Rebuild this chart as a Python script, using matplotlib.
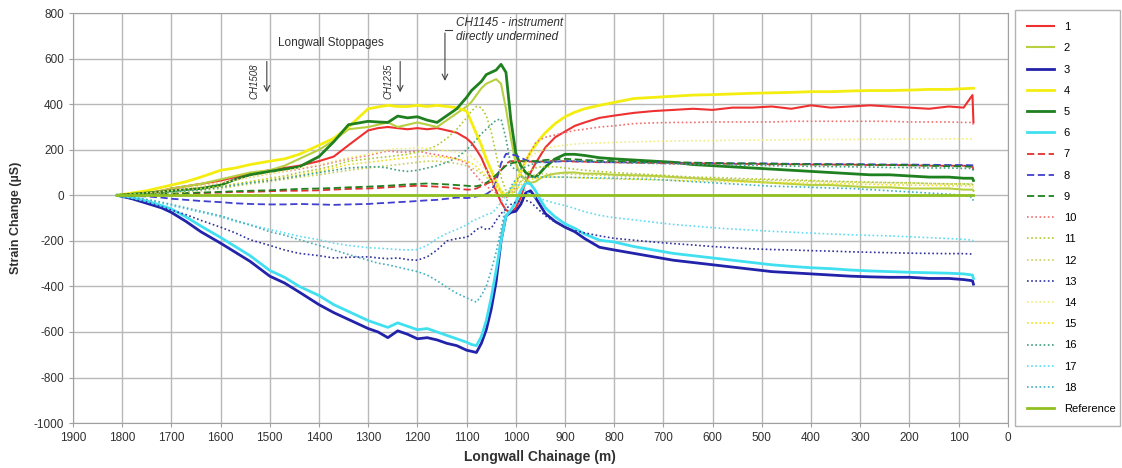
import matplotlib
matplotlib.use('Agg')
import matplotlib.pyplot as plt

# chainage (m) shared by the 18 instrument series
chainage = [1810, 1780, 1750, 1720, 1700, 1670, 1640, 1600, 1570, 1540,
            1500, 1470, 1440, 1400, 1370, 1340, 1300, 1280, 1260, 1240,
            1220, 1200, 1180, 1160, 1140, 1120, 1100, 1090, 1080, 1070,
            1060, 1050, 1040, 1030, 1020, 1010, 1000, 990, 980, 970,
            960, 950, 940, 920, 900, 880, 860, 830, 800, 760,
            720, 680, 640, 600, 560, 520, 480, 440, 400, 360,
            320, 280, 240, 200, 160, 120, 90, 72, 70]

s1 = [0, 5, 10, 20, 30, 40, 50, 65, 80, 95,
      110, 120, 130, 150, 170, 220, 285, 295, 300, 295,
      290, 295, 290, 295, 285, 275, 250, 230, 200, 165,
      115, 70, 20, -30, -65, -75, -55, -10, 60, 100,
      140, 175, 210, 255, 280, 305, 320, 340, 350, 362,
      370, 375, 380, 375, 385, 385, 390, 380, 395, 385,
      390, 395, 390, 385, 380, 390, 385, 440, 320]
s2 = [0, 5, 10, 20, 30, 40, 50, 70, 85, 100,
      110, 130, 160, 200, 240, 290, 300, 310, 320, 300,
      310, 320, 310, 300, 330, 360, 390, 410, 440, 470,
      490, 500, 510, 490, 380, 250, 140, 90, 70, 55,
      60, 75, 85, 95, 100, 100, 95, 95, 90, 88,
      85, 80, 75, 70, 65, 60, 55, 50, 45, 45,
      40, 35, 35, 30, 30, 30, 25, 25, 20]
s3 = [0, -15, -35, -55, -75, -115, -160, -210, -250, -290,
      -355, -385, -425, -480, -515, -545, -585, -600, -625, -595,
      -610, -630, -625, -635, -650, -660, -680, -685, -690, -650,
      -590, -500, -380, -200, -90, -75, -70, -40, 10, 20,
      -10, -45, -80, -115, -140, -160, -190, -228, -240, -255,
      -270, -285, -295, -305, -315, -325, -335, -340, -345, -350,
      -355, -358, -360, -360, -365, -365, -370, -375, -390]
s4 = [0, 10, 20, 35, 45, 60, 80, 110, 120, 135,
      150, 160, 180, 220, 250, 300, 380, 388, 395, 390,
      390, 395, 390, 395, 390, 385, 370, 320, 270, 220,
      160, 110, 60, 15, 0, 20, 60, 100, 150, 190,
      220, 250, 275, 315, 345, 365, 380, 395, 408, 425,
      430, 435, 440, 442, 445, 448, 450, 452, 455, 455,
      458, 460, 460, 462, 465, 465, 468, 470, 470]
s5 = [0, 5, 10, 15, 20, 25, 30, 45, 70, 90,
      105, 115, 125, 170, 235, 310, 325, 322, 320, 348,
      340, 345, 330, 320, 350, 380, 430, 460, 480, 500,
      530, 540, 550, 575, 540, 330, 185, 130, 100, 85,
      80, 100, 125, 160, 180, 180, 175, 165, 160, 155,
      150, 145, 135, 130, 125, 120, 115, 110, 105, 100,
      95, 90, 90, 85, 80, 80, 75, 75, 65]
s6 = [0, -10, -25, -45, -60, -95, -135, -185, -225, -265,
      -330, -360, -400, -440, -480, -510, -550, -565, -580, -560,
      -575, -590, -585, -600, -615, -630, -645, -655, -660, -620,
      -550, -450, -330, -200, -90, -65, -30, 20, 55, 50,
      20, -20, -55, -95, -125, -145, -170, -197, -205, -225,
      -240, -255, -265, -275, -285, -295, -305, -312, -318, -322,
      -328, -332, -335, -338, -340, -342, -345, -350, -365]
s7 = [0, 0, 2, 5, 5, 8, 10, 12, 15, 15,
      18, 20, 20, 22, 25, 28, 30, 32, 35, 38,
      40, 42, 40, 38, 35, 30, 25, 25, 30, 40,
      50, 60, 80, 110, 140, 150, 150, 150, 148, 148,
      148, 148, 150, 150, 150, 148, 148, 145, 145, 143,
      142, 140, 140, 140, 138, 138, 136, 136, 135, 135,
      135, 133, 133, 132, 130, 130, 130, 128, 110]
s8 = [0, -3, -5, -10, -15, -20, -25, -30, -35, -38,
      -40, -40, -38, -40, -42, -40, -38, -35, -33, -30,
      -28, -25, -22, -20, -15, -10, -12, -10, -5, 0,
      5, 20, 60, 140, 182, 180, 175, 165, 155, 150,
      148, 145, 145, 148, 150, 150, 148, 147, 145, 145,
      145, 143, 143, 142, 140, 140, 140, 138, 138, 137,
      137, 136, 135, 135, 134, 133, 133, 132, 120]
s9 = [0, 0, 3, 5, 8, 10, 12, 15, 18, 20,
      22, 25, 28, 30, 32, 35, 38, 40, 42, 45,
      48, 50, 52, 50, 48, 45, 42, 40, 40, 45,
      55, 70, 90, 110, 130, 140, 145, 150, 150, 150,
      150, 152, 155, 158, 160, 158, 155, 152, 150, 148,
      146, 145, 143, 142, 140, 140, 138, 137, 136, 135,
      135, 134, 133, 132, 130, 128, 127, 125, 115]
s10 = [0, 5, 10, 15, 25, 30, 40, 55, 70, 80,
       95, 105, 115, 130, 145, 160, 175, 185, 195, 190,
       190, 195, 185, 178, 170, 160, 140, 110, 85, 60,
       40, 25, 10, -5, -10, 0, 40, 100, 150, 190,
       230, 245, 255, 265, 275, 285, 290, 300, 305, 315,
       318, 320, 320, 322, 322, 322, 322, 325, 325, 325,
       325, 325, 325, 322, 322, 322, 320, 320, 310]
s11 = [0, 3, 5, 10, 15, 20, 30, 40, 50, 60,
       75, 85, 100, 115, 130, 150, 160, 165, 170, 175,
       180, 190, 200, 220, 250, 290, 340, 370, 390, 385,
       350, 280, 180, 80, 20, 0, 20, 60, 90, 110,
       120, 125, 125, 125, 120, 115, 110, 105, 100, 95,
       90, 85, 80, 78, 75, 72, 70, 68, 65, 62,
       60, 58, 56, 55, 52, 50, 50, 48, 40]
s12 = [0, 2, 5, 8, 10, 15, 20, 30, 40, 50,
       60, 70, 80, 90, 100, 110, 120, 125, 130, 135,
       140, 145, 150, 150, 145, 140, 130, 120, 110, 95,
       80, 60, 40, 20, 10, 20, 40, 60, 75, 85,
       90, 95, 95, 95, 95, 92, 90, 88, 85, 82,
       80, 78, 75, 72, 70, 68, 66, 64, 62, 60,
       58, 56, 55, 54, 52, 50, 50, 50, 45]
s13 = [0, -15, -30, -50, -65, -85, -110, -140, -165, -195,
       -220, -240, -255, -265, -275, -272, -270, -275, -278, -275,
       -282, -285, -270, -240, -200, -190, -184, -170, -150, -140,
       -150, -145, -110, -80, -60, -40, -30, -25, -22, -30,
       -50, -70, -90, -118, -140, -155, -165, -178, -189, -197,
       -205, -212, -218, -225, -230, -235, -238, -240, -243, -245,
       -248, -250, -252, -254, -255, -256, -256, -258, -262]
s14 = [0, 5, 10, 15, 20, 30, 40, 55, 65, 80,
       95, 105, 120, 135, 150, 165, 180, 190, 200, 205,
       205, 210, 205, 200, 195, 190, 180, 170, 150, 130,
       110, 80, 50, 20, 0, 20, 60, 100, 140, 170,
       185, 195, 205, 215, 220, 225, 228, 230, 232, 235,
       237, 238, 240, 240, 242, 242, 243, 244, 245, 245,
       245, 246, 246, 247, 247, 248, 248, 248, 240]
s15 = [0, 3, 6, 10, 15, 20, 28, 38, 48, 58,
       70, 80, 90, 105, 120, 135, 145, 150, 155, 160,
       165, 170, 172, 170, 165, 160, 150, 140, 125, 105,
       85, 60, 35, 10, -5, 5, 25, 45, 60, 70,
       75, 80, 80, 80, 80, 78, 76, 74, 72, 70,
       68, 66, 64, 62, 60, 58, 56, 55, 54, 52,
       50, 48, 46, 45, 44, 42, 42, 40, 35]
s16 = [0, 3, 6, 10, 15, 20, 25, 35, 45, 55,
       65, 75, 85, 100, 110, 120, 125, 125, 120, 110,
       105, 110, 120, 130, 145, 165, 200, 220, 245, 270,
       290, 310, 330, 335, 250, 130, 110, 115, 125, 135,
       140, 145, 148, 150, 152, 152, 150, 148, 145, 142,
       140, 138, 136, 135, 133, 132, 130, 128, 127, 126,
       125, 124, 122, 122, 120, 120, 118, 118, 105]
s17 = [0, -10, -20, -35, -45, -60, -75, -95, -115, -130,
       -150, -165, -180, -195, -210, -220, -230, -232, -235, -238,
       -240, -238, -220, -190, -167, -150, -130, -115, -105, -96,
       -85, -79, -60, -30, 0, 30, 50, 40, 20, 0,
       -10, -15, -22, -35, -45, -58, -72, -88, -98, -108,
       -118, -128, -135, -142, -148, -153, -158, -162, -166, -170,
       -173, -176, -178, -182, -186, -190, -193, -197, -205]
s18 = [0, -8, -18, -30, -40, -55, -70, -90, -110, -130,
       -160, -175, -195, -220, -240, -260, -285, -298, -305, -315,
       -325, -335, -350, -375, -404, -430, -450, -460, -469, -440,
       -400, -330, -250, -150, -40, 40, 70, 80, 80, 80,
       80, 80, 80, 80, 80, 78, 78, 76, 75, 72,
       70, 65, 60, 55, 50, 45, 40, 38, 35, 32,
       30, 25, 20, 15, 10, 5, 0, -10, -30]

ref_chainage = [1810, 70]
ref_vals = [0, 0]

labels = [str(i) for i in range(1, 19)]
series = [s1, s2, s3, s4, s5, s6, s7, s8, s9, s10, s11, s12, s13, s14, s15, s16, s17, s18]
colors = ['#ee3030', '#b8d040', '#2222aa', '#f4ee10', '#1f801f', '#40e0f0',
          '#e03030', '#4040d0', '#208020', '#f07070', '#b0c830', '#c8d060',
          '#3030a0', '#f0ee80', '#f0e020', '#40a080', '#60dcf0', '#40b0c0']
widths = [1.5, 1.5, 2, 2, 2, 2] + [1.3] * 3 + [1.2] * 9
styles = ['-'] * 6 + [(0, (4, 2))] * 3 + [(0, (1, 1.5))] * 9

plt.rcParams['font.family'] = ['Liberation Sans', 'DejaVu Sans']
plt.rcParams['axes.unicode_minus'] = False

fig = plt.figure(figsize=(11.22, 4.68), dpi=100)
ax = fig.add_axes([0.065, 0.096, 0.8333, 0.876])

for lab, vals, c, lw, ls in zip(labels, series, colors, widths, styles):
    ax.plot(chainage, vals, color=c, lw=lw, linestyle=ls, label=lab)
ax.plot(ref_chainage, ref_vals, color='#90c020', lw=2, label='Reference')

ax.set_xlim(1900, 0)
ax.set_ylim(-1000, 800)
ax.set_xticks(range(0, 2000, 100))
ax.set_yticks(range(-1000, 801, 200))
ax.grid(True, color='#b8b8b8', lw=1)
ax.set_axisbelow(True)
for sp in ax.spines.values():
    sp.set_color('#a0a0a0')
ax.tick_params(axis='both', colors='#a0a0a0', labelcolor='#303030', length=3, labelsize=8.5)

ax.set_xlabel('Longwall Chainage (m)', fontsize=10, fontweight='bold',
              color='#303030', labelpad=4)
ax.set_ylabel('Strain Change (µS)', fontsize=9, fontweight='bold', color='#303030', labelpad=8)

# annotations
arrow = dict(arrowstyle='->', color='#404040', lw=0.8)
ax.text(1375, 670, 'Longwall Stoppages', fontsize=8.5, ha='center', va='center', color='#303030')
ax.annotate('', xy=(1506, 440), xytext=(1506, 600), arrowprops=arrow)
ax.annotate('', xy=(1235, 440), xytext=(1235, 600), arrowprops=arrow)
ax.text(1531, 500, 'CH1508', rotation=90, fontsize=7, style='italic', ha='center', va='center', color='#303030')
ax.text(1259, 500, 'CH1235', rotation=90, fontsize=7, style='italic', ha='center', va='center', color='#303030')
ax.plot([1130, 1144], [725, 725], color='#404040', lw=0.8)
ax.annotate('', xy=(1144, 490), xytext=(1144, 725), arrowprops=arrow)
ax.text(1122, 726, 'CH1145 - instrument\ndirectly undermined', fontsize=8.5, style='italic',
        ha='left', va='center', linespacing=1.2, color='#303030')

fig.legend(loc='upper left', bbox_to_anchor=(0.9046, 0.0919, 0.0936, 0.887), mode='expand',
           frameon=True, fancybox=False, edgecolor='#a0a0a0', fontsize=8,
           handlelength=2.4, handletextpad=0.9, labelspacing=1.01, borderpad=1.1,
           borderaxespad=0)

fig.savefig('out.png', dpi=100)
